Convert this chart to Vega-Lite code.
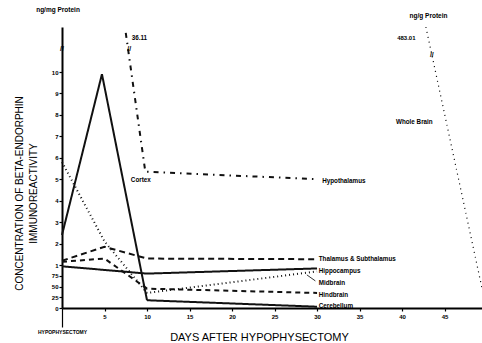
{
  "$schema": "https://vega.github.io/schema/vega-lite/v6.json",
  "width": 420,
  "height": 281,
  "autosize": {"type": "none"},
  "padding": {"left": 62, "top": 27, "right": 0, "bottom": 35},
  "background": "white",
  "title": {"text": "ng/mg Protein", "anchor": "start", "frame": "group", "align": "center", "baseline": "bottom", "dx": -4, "offset": -7.5, "fontSize": 6.5, "font": "Liberation Sans", "fontWeight": "bold", "color": "black"},
  "config": {
    "view": {"stroke": null},
    "axis": {"grid": false, "domainColor": "black", "tickColor": "black", "labelColor": "black", "titleColor": "black", "labelOverlap": false, "labelFlush": false}
  },
  "layer": [
    {
      "layer": [
        {
          "data": {"values": [
            {"series": "Cortex", "day": 0, "conc": 2.4},
            {"series": "Cortex", "day": 4.7, "conc": 9.9},
            {"series": "Cortex", "day": 10, "conc": 0.18},
            {"series": "Cerebellum", "day": 10, "conc": 0.18},
            {"series": "Cerebellum", "day": 30, "conc": 0.03},
            {"series": "Hippocampus", "day": 0, "conc": 0.97},
            {"series": "Hippocampus", "day": 10, "conc": 0.8},
            {"series": "Hippocampus", "day": 30, "conc": 0.92},
            {"series": "Thalamus & Subthalamus", "day": 0, "conc": 1.2},
            {"series": "Thalamus & Subthalamus", "day": 5, "conc": 1.85},
            {"series": "Thalamus & Subthalamus", "day": 10, "conc": 1.3},
            {"series": "Thalamus & Subthalamus", "day": 30, "conc": 1.27},
            {"series": "Hindbrain", "day": 0, "conc": 1.15},
            {"series": "Hindbrain", "day": 5, "conc": 1.3},
            {"series": "Hindbrain", "day": 10, "conc": 0.45},
            {"series": "Hindbrain", "day": 30, "conc": 0.35},
            {"series": "Midbrain", "day": 0, "conc": 5.8},
            {"series": "Midbrain", "day": 5, "conc": 2.1},
            {"series": "Midbrain", "day": 10, "conc": 0.35},
            {"series": "Midbrain", "day": 30, "conc": 0.85},
            {"series": "Hypothalamus", "day": 7.5, "conc": 36.11},
            {"series": "Hypothalamus", "day": 9.8, "conc": 5.35},
            {"series": "Hypothalamus", "day": 30, "conc": 5.0}
          ]},
          "mark": {"type": "line", "color": "#111"},
          "encoding": {
            "x": {"field": "day", "type": "quantitative",
              "scale": {"domain": [0, 49.4], "nice": false, "zero": false},
              "axis": {
                "values": [0, 5, 10, 15, 20, 25, 30, 35, 40, 45],
                "tickCount": 20,
                "labelExpr": "datum.value == 0 ? 'HYPOPHYSECTOMY' : datum.label",
                "labelFontSize": {"condition": {"test": "datum.value == 0", "value": 5}, "value": 6},
                "labelFont": "Liberation Sans", "labelFontWeight": "bold",
                "labelPadding": 2,
                "tickSize": {"condition": {"test": "datum.value == 0", "value": 19}, "value": 3},
                "tickWidth": 1.2,
                "domainWidth": 2,
                "title": "DAYS AFTER HYPOPHYSECTOMY",
                "titleFont": "Liberation Sans", "titleFontSize": 11, "titleFontWeight": "normal",
                "titleX": 197, "titleY": 32, "titleAlign": "center", "titleBaseline": "alphabetic"
              }
            },
            "y": {"field": "conc", "type": "quantitative",
              "scale": {"domain": [0, 1, 10, 38], "range": [281, 238, 45, 0]},
              "axis": {
                "values": [0, 0.25, 0.5, 0.75, 1, 2, 3, 4, 5, 6, 7, 8, 9, 10],
                "tickCount": 30,
                "labelExpr": "datum.value > 0 && datum.value < 1 ? format(datum.value * 100, 'd') : format(datum.value, 'd')",
                "tickSize": 3, "tickWidth": 1.2, "labelPadding": 1,
                "labelFontSize": 6, "labelFont": "Liberation Sans", "labelFontWeight": "bold",
                "labelOverlap": false,
                "domainWidth": 2,
                "title": ["CONCENTRATION OF BETA-ENDORPHIN", "IMMUNOREACTIVITY"],
                "titleFont": "Liberation Sans", "titleFontSize": 10, "titleFontWeight": "normal",
                "titleX": -40, "titleY": 166, "titleAngle": -90, "titleAlign": "center",
                "titleBaseline": "alphabetic", "titleLineHeight": 14
              }
            },
            "strokeDash": {"field": "series", "type": "nominal", "legend": null,
              "scale": {"domain": ["Cortex", "Cerebellum", "Hippocampus", "Thalamus & Subthalamus", "Hindbrain", "Midbrain", "Hypothalamus"],
                "range": [[1, 0], [1, 0], [1, 0], [6, 4], [5, 4], [1, 3], [5, 5, 1.5, 5]]}},
            "strokeWidth": {"field": "series", "type": "nominal", "legend": null,
              "scale": {"domain": ["Cortex", "Cerebellum", "Hippocampus", "Thalamus & Subthalamus", "Hindbrain", "Midbrain", "Hypothalamus"],
                "range": [2, 2, 2, 0.9, 0.9, 1.1, 1]}}
          }
        },
        {
          "data": {"values": [
            {"label": "Cortex", "day": 8.1, "conc": 4.97},
            {"label": "36.11", "day": 8.2, "conc": 33},
            {"label": "Hypothalamus", "day": 30.6, "conc": 4.93},
            {"label": "Thalamus & Subthalamus", "day": 30.2, "conc": 1.28},
            {"label": "Hippocampus", "day": 30.2, "conc": 0.86},
            {"label": "Midbrain", "day": 30.2, "conc": 0.58},
            {"label": "Hindbrain", "day": 30.2, "conc": 0.3},
            {"label": "Cerebellum", "day": 30.2, "conc": 0.05}
          ]},
          "mark": {"type": "text", "align": "left", "baseline": "middle", "font": "Liberation Sans", "fontSize": 6.3, "fontWeight": "bold", "color": "black"},
          "encoding": {
            "x": {"field": "day", "type": "quantitative"},
            "y": {"field": "conc", "type": "quantitative"},
            "text": {"field": "label"}
          }
        },
        {
          "data": {"values": [
            {"label": "//", "day": 0, "conc": 25.6},
            {"label": "//", "day": 7.9, "conc": 25.6}
          ]},
          "mark": {"type": "text", "align": "center", "baseline": "middle", "font": "Liberation Sans", "fontSize": 7, "fontWeight": "bold", "color": "black"},
          "encoding": {
            "x": {"field": "day", "type": "quantitative"},
            "y": {"field": "conc", "type": "quantitative"},
            "text": {"field": "label"}
          }
        },
        {
          "data": {"values": [{"day": 28.8, "conc": 0.77, "day2": 29.8, "conc2": 0.63}]},
          "mark": {"type": "rule", "color": "black", "strokeWidth": 0.8},
          "encoding": {
            "x": {"field": "day", "type": "quantitative"},
            "x2": {"field": "day2"},
            "y": {"field": "conc", "type": "quantitative"},
            "y2": {"field": "conc2"}
          }
        }
      ]
    },
    {
      "layer": [
        {
          "data": {"values": [
            {"series": "Whole Brain", "day": 42.8, "wb": 483.01},
            {"series": "Whole Brain", "day": 49.9, "wb": 0}
          ]},
          "mark": {"type": "line", "color": "black", "strokeDash": [1, 4], "strokeWidth": 1.2, "clip": true},
          "encoding": {
            "x": {"field": "day", "type": "quantitative"},
            "y": {"field": "wb", "type": "quantitative",
              "scale": {"domain": [0, 483.01], "nice": false},
              "axis": {
                "orient": "right", "offset": -50, "domain": false, "ticks": false,
                "values": [483.01], "labelExpr": "'483.01'",
                "labelAlign": "right", "labelPadding": -17, "labelOffset": 10,
                "labelFontSize": 6, "labelFont": "Liberation Sans", "labelFontWeight": "bold",
                "title": "ng/g Protein", "titleAngle": 0, "titleX": -4, "titleY": -12,
                "titleAlign": "center", "titleBaseline": "middle",
                "titleFont": "Liberation Sans", "titleFontSize": 6.5, "titleFontWeight": "bold"
              }
            }
          }
        },
        {
          "data": {"values": [{"label": "Whole Brain", "day": 43.6, "wb": 320}]},
          "mark": {"type": "text", "align": "right", "baseline": "middle", "font": "Liberation Sans", "fontSize": 6.3, "fontWeight": "bold", "color": "black"},
          "encoding": {
            "x": {"field": "day", "type": "quantitative"},
            "y": {"field": "wb", "type": "quantitative"},
            "text": {"field": "label"}
          }
        },
        {
          "data": {"values": [{"label": "//", "day": 43.5, "wb": 435}]},
          "mark": {"type": "text", "align": "center", "baseline": "middle", "font": "Liberation Sans", "fontSize": 7, "fontWeight": "bold", "color": "black"},
          "encoding": {
            "x": {"field": "day", "type": "quantitative"},
            "y": {"field": "wb", "type": "quantitative"},
            "text": {"field": "label"}
          }
        }
      ]
    }
  ],
  "resolve": {"scale": {"y": "independent"}, "axis": {"y": "independent"}}
}
